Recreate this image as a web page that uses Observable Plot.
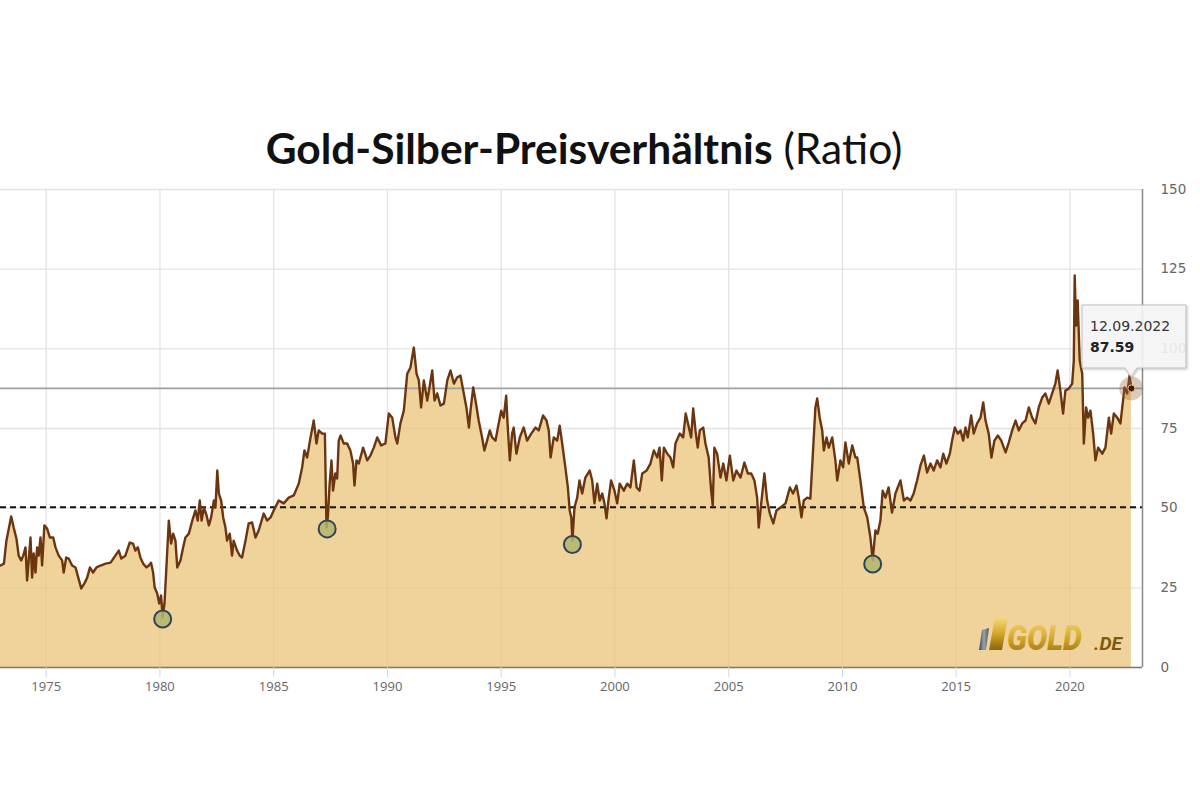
<!DOCTYPE html>
<html><head><meta charset="utf-8">
<script src="https://cdn.jsdelivr.net/npm/d3@7"></script>
<script src="https://cdn.jsdelivr.net/npm/@observablehq/plot@0.6"></script>
<style>
html,body{margin:0;padding:0;background:#fff;}
body{width:1200px;height:800px;overflow:hidden;position:relative;}
#title{position:absolute;left:0;top:125px;width:1168px;text-align:center;font-family:Lato,"Open Sans",sans-serif;font-size:42.5px;line-height:46px;color:#111;white-space:nowrap;}
#title b{font-weight:700;}
#title span{font-weight:400;}
#chart{position:absolute;left:0;top:0;}
#overlay{position:absolute;left:0;top:0;pointer-events:none;}
</style>
</head><body>
<div id="title"><b>Gold-Silber-Preisverhältnis</b> <span>(Ratio)</span></div>
<div id="chart"></div>
<script>
// ---- data ----
const years = [
1972.99,1973.14,1973.25,1973.46,1973.57,1973.69,1973.79,1973.90,1973.99,1974.09,
1974.16,1974.23,1974.31,1974.38,1974.45,1974.53,1974.60,1974.67,1974.75,1974.82,
1974.92,1975.04,1975.16,1975.31,1975.41,1975.55,1975.70,1975.77,1975.88,1975.99,
1976.14,1976.29,1976.41,1976.54,1976.68,1976.80,1976.92,1977.06,1977.21,1977.39,
1977.61,1977.83,1978.04,1978.19,1978.30,1978.48,1978.67,1978.82,1978.92,1979.03,
1979.14,1979.26,1979.41,1979.51,1979.61,1979.70,1979.77,1979.88,1979.97,1980.05,
1980.12,1980.20,1980.27,1980.39,1980.49,1980.58,1980.68,1980.76,1980.90,1981.02,
1981.12,1981.27,1981.42,1981.56,1981.66,1981.75,1981.83,1981.93,1982.05,1982.15,
1982.25,1982.37,1982.44,1982.52,1982.59,1982.69,1982.78,1982.88,1982.95,1983.07,
1983.17,1983.24,1983.39,1983.51,
1983.61,1983.76,1983.90,1984.05,1984.20,1984.34,1984.56,1984.71,1984.86,1985.00,
1985.22,1985.44,1985.66,1985.88,1986.10,1986.25,1986.35,1986.47,1986.62,1986.76,
1986.88,1986.98,1987.13,1987.25,1987.32,1987.38,1987.46,1987.54,1987.61,1987.71,
1987.79,1987.86,1987.94,1988.08,1988.23,1988.37,1988.49,1988.55,1988.64,1988.74,
1988.93,1989.11,1989.25,1989.40,1989.55,1989.72,1989.91,1990.06,1990.21,1990.35,
1990.43,1990.57,1990.72,1990.87,1991.01,1991.16,1991.28,1991.38,1991.48,1991.60,
1991.75,1991.85,1991.97,1992.07,1992.19,1992.33,1992.48,1992.63,1992.77,1992.92,
1993.06,1993.21,1993.33,1993.47,1993.58,1993.65,1993.77,1993.87,1994.01,1994.16,
1994.26,1994.38,1994.50,1994.60,1994.75,1994.89,1995.00,1995.11,1995.22,1995.29,
1995.38,1995.48,1995.55,1995.67,1995.82,1995.99,1996.14,1996.32,1996.51,1996.65,
1996.84,1996.99,1997.09,1997.17,1997.31,1997.46,1997.57,1997.68,1997.82,1997.93,
1998.01,1998.08,1998.13,1998.22,1998.34,1998.44,1998.56,1998.70,1998.89,1999.00,
1999.10,1999.22,1999.33,1999.44,1999.54,1999.63,1999.73,1999.83,1999.98,2000.10,
2000.21,2000.39,2000.54,2000.68,2000.83,2000.95,2001.08,2001.20,2001.39,2001.56,
2001.71,2001.86,2001.96,2002.06,2002.15,2002.30,2002.44,2002.56,2002.66,2002.85,
2003.00,2003.11,2003.25,2003.35,2003.44,2003.54,2003.64,2003.73,2003.88,2003.98,
2004.12,2004.23,2004.30,2004.37,2004.49,2004.64,2004.76,2004.90,2005.05,2005.20,
2005.34,2005.52,2005.69,2005.84,2005.99,2006.13,2006.25,2006.32,2006.43,2006.57,
2006.69,2006.81,2006.96,2007.10,2007.28,2007.50,2007.69,2007.83,2007.98,2008.08,
2008.20,2008.30,2008.45,2008.59,2008.70,2008.81,2008.89,2009.00,2009.11,2009.18,
2009.30,2009.40,2009.55,2009.69,2009.77,2009.91,2010.03,2010.13,2010.28,2010.43,
2010.57,2010.65,2010.79,2010.94,2011.09,2011.23,2011.33,2011.45,2011.55,2011.67,
2011.77,2011.89,2012.03,2012.18,2012.33,2012.55,2012.70,2012.84,2012.99,2013.13,
2013.28,2013.43,2013.58,2013.72,2013.87,2014.01,2014.16,2014.31,2014.43,2014.57,
2014.72,2014.82,2014.94,2015.07,2015.19,2015.31,2015.41,2015.51,2015.66,2015.77,
2015.92,2016.07,2016.19,2016.29,2016.43,2016.55,2016.68,2016.83,2016.98,2017.17,
2017.31,2017.46,2017.61,2017.75,2017.90,2018.05,2018.19,2018.34,2018.48,2018.63,
2018.78,2018.92,2019.07,2019.22,2019.36,2019.46,2019.58,2019.70,2019.80,2019.95,
2020.10,2020.17,2020.21,2020.27,2020.34,2020.43,2020.54,2020.61,2020.71,2020.80,
2020.90,2021.02,2021.12,2021.24,2021.42,2021.56,2021.71,2021.81,2021.93,2022.08,
2022.22,2022.30,2022.40,2022.52,2022.62,2022.70
];
const ratio = [
32.0,32.6,39.8,47.4,43.9,40.5,35.1,33.6,35.1,37.7,
27.3,33.6,40.8,28.2,35.8,29.8,37.7,35.1,40.8,32.0,
44.6,43.6,40.8,40.8,37.7,35.1,33.6,29.8,34.5,34.2,
32.0,31.4,28.2,24.8,26.4,28.2,31.4,29.8,31.4,32.0,
32.6,32.9,35.1,36.7,34.2,35.1,39.2,38.9,36.7,37.7,
34.5,32.6,31.4,32.0,32.9,29.8,25.1,23.2,20.1,22.6,
15.7,20.1,29.5,46.1,38.9,42.0,39.8,31.4,33.6,37.7,
40.8,42.0,46.1,49.3,46.1,52.4,46.1,50.2,47.7,44.6,
47.1,52.4,50.2,61.8,54.6,52.4,47.1,43.9,39.8,42.0,
35.1,39.8,36.7,35.1,
34.5,39.8,45.2,45.5,40.8,43.0,48.3,46.1,47.1,49.3,
52.4,51.5,53.3,54.0,57.7,62.8,68.1,65.9,72.2,77.5,
70.3,74.4,73.4,73.4,44.0,47.1,57.7,65.0,55.5,60.9,
59.3,71.2,72.8,70.3,70.3,68.1,64.0,57.1,65.0,64.0,
69.0,65.0,66.5,69.0,72.2,69.7,70.3,79.7,78.4,72.2,
70.3,76.6,80.6,92.2,94.1,100.4,92.2,90.1,81.6,90.1,
83.8,87.9,93.2,83.8,86.0,82.2,82.8,90.1,93.2,89.1,
91.0,91.6,86.9,81.6,75.3,80.6,87.9,83.8,77.5,72.2,
68.1,71.2,74.4,72.2,71.2,76.6,80.6,78.4,85.3,75.3,
65.0,73.4,75.3,67.1,72.2,75.3,71.2,73.4,75.3,74.4,
79.1,77.5,74.4,65.9,72.2,71.2,75.9,70.3,62.8,56.5,
49.3,47.1,39.8,50.2,53.3,58.7,54.6,59.6,61.8,58.7,
51.5,57.7,52.4,54.6,51.5,46.8,53.3,58.7,55.5,51.5,
57.7,55.5,57.7,56.5,65.0,56.5,55.5,60.9,61.8,64.0,
68.1,65.9,69.0,58.7,69.0,67.1,65.9,62.8,70.3,73.4,
72.2,79.7,75.3,72.2,81.3,74.4,69.0,74.4,75.3,70.3,
65.9,55.5,50.8,69.0,67.1,59.6,64.0,58.7,66.5,58.7,
61.8,59.6,64.3,60.9,60.9,58.7,53.3,43.9,51.5,60.9,
52.4,48.3,45.2,49.3,50.2,51.5,56.5,54.6,57.1,53.3,
47.1,52.4,53.3,53.0,67.1,81.6,84.4,78.4,74.4,68.1,
72.2,69.0,72.2,65.0,58.7,65.0,62.8,70.6,64.0,69.7,
65.9,65.9,58.7,50.2,47.1,40.8,33.6,43.0,42.0,46.1,
55.5,53.3,56.5,48.6,54.6,58.7,52.4,53.3,52.4,54.6,
58.7,63.4,66.5,61.2,64.0,61.8,65.0,62.8,67.1,64.0,
67.1,71.2,75.3,73.4,74.4,71.2,75.3,72.2,79.1,73.4,
76.6,78.4,83.2,77.5,73.4,65.9,71.2,72.8,71.2,67.5,
70.6,74.4,77.5,74.4,76.6,77.5,81.6,78.4,76.6,81.6,
84.7,86.0,82.8,86.0,89.1,93.2,86.9,79.7,86.9,87.5,
89.1,96.3,123.0,107.3,115.2,96.3,92.2,70.3,81.6,78.4,
80.6,73.4,65.0,69.0,67.1,69.0,78.4,73.4,79.7,78.4,
76.6,81.6,87.9,86.0,91.6,87.59
];
const lowYears = [1980.12, 1987.35, 1998.13, 2011.33];
const lowValues = [15.2, 43.5, 38.6, 32.5];
const averageLine = 50.3;
const lastYear = 2022.70;
const lastLabel = "12.09.2022";
const lastValue = 87.59;
const tickYears = [1975, 1980, 1985, 1990, 1995, 2000, 2005, 2010, 2015, 2020];
const yTicks = [0, 25, 50, 75, 100, 125, 150];
const domainYears = [1972.99, 2023.19];

// ---- build ----
const toDate = t => { const y = Math.floor(t); const a = Date.UTC(y, 0, 1), b = Date.UTC(y + 1, 0, 1); return new Date(a + (t - y) * (b - a)); };
const data = years.map((t, i) => ({date: toDate(t), ratio: ratio[i]}));
const lows = lowYears.map((t, i) => ({date: toDate(t), ratio: lowValues[i]}));
const last = {date: toDate(lastYear), ratio: lastValue};
const xDomain = domainYears.map(toDate);
const xTicks = tickYears.map(y => new Date(Date.UTC(y, 0, 1)));

const chart = Plot.plot({
  width: 1200, height: 800,
  marginLeft: 0, marginRight: 58, marginTop: 189, marginBottom: 133,
  x: {type: "utc", domain: xDomain},
  y: {domain: [0, 150]},
  style: {background: "transparent", overflow: "visible"},
  marks: [
    Plot.gridY(yTicks, {stroke: "#e3e3e3", strokeOpacity: 1, strokeWidth: 1.3}),
    Plot.gridX(xTicks, {stroke: "#e3e3e3", strokeOpacity: 1, strokeWidth: 1.3}),
    Plot.areaY(data, {x: "date", y: "ratio", fill: "#e9c477", fillOpacity: 0.74}),
    Plot.ruleY([averageLine], {stroke: "#111", strokeWidth: 2, strokeDasharray: "6,4"}),
    Plot.ruleY([lastValue], {stroke: "#a0a0a0", strokeWidth: 1.6}),
    Plot.lineY(data, {x: "date", y: "ratio", stroke: "#6b3510", strokeWidth: 2.4, strokeLinejoin: "round"}),
    Plot.dot(lows, {x: "date", y: "ratio", r: 8.5, fill: "#b1b56c", fillOpacity: 0.85, stroke: "#2d4656", strokeWidth: 2}),
    Plot.dot([last], {x: "date", y: "ratio", r: 12, fill: "#9a6a3a", fillOpacity: 0.35}),
    Plot.dot([last], {x: "date", y: "ratio", r: 3.5, fill: "#3b1c06", stroke: "#e8c47a", strokeWidth: 1}),
    Plot.ruleY([0], {stroke: "#7a7a7a", strokeWidth: 1.5}),
    Plot.ruleX([xDomain[1]], {y1: 0, y2: 150, stroke: "#8a8a8a", strokeWidth: 1.5}),
    Plot.axisY(yTicks, {anchor: "right", tickSize: 0, tickPadding: 18, fontSize: 13.5, fill: "#666", fontFamily: "DejaVu Sans", label: null}),
    Plot.axisX(xTicks, {anchor: "bottom", tickSize: 10, stroke: "#ccd6eb", tickPadding: 4, tickFormat: d => String(d.getUTCFullYear()), fontSize: 13, fill: "#666", fontFamily: "Open Sans", label: null})
  ]
});
document.getElementById("chart").appendChild(chart);

// ---- overlay: tooltip + logo ----
const ns = "http://www.w3.org/2000/svg";
const ov = document.createElementNS(ns, "svg");
ov.setAttribute("id", "overlay");
ov.setAttribute("width", 1200); ov.setAttribute("height", 800);
ov.innerHTML = `
<defs>
  <linearGradient id="gold" x1="0" y1="0" x2="0" y2="1">
    <stop offset="0" stop-color="#f6dc7c"/><stop offset="0.5" stop-color="#d3a62a"/><stop offset="1" stop-color="#8c6510"/>
  </linearGradient>
  <linearGradient id="steel" x1="0" y1="0" x2="1" y2="0">
    <stop offset="0" stop-color="#3b4652"/><stop offset="0.5" stop-color="#9aa3ad"/><stop offset="1" stop-color="#4b5560"/>
  </linearGradient>
  <filter id="sh" x="-20%" y="-20%" width="150%" height="150%"><feDropShadow dx="1" dy="1" stdDeviation="1.2" flood-color="#000" flood-opacity="0.25"/></filter>
</defs>
<path d="M1082,305 H1186 V368 H1137 L1131,377 L1125,368 H1082 Z" fill="rgba(247,247,247,0.88)" stroke="#bdbdbd" stroke-width="1" filter="url(#sh)"/>
<text x="1090" y="331" font-family="DejaVu Sans" font-size="14" fill="#333">${lastLabel}</text>
<text x="1090" y="352" font-family="DejaVu Sans" font-size="14" font-weight="bold" fill="#222">${lastValue.toFixed(2)}</text>
<polygon points="982,630 989,628 986,650 979,650" fill="url(#steel)"/>
<polygon points="995,617 1008,617 1002,650 989,650" fill="url(#gold)"/>
<text x="1007" y="650" font-family="Roboto, 'DejaVu Sans'" font-style="italic" font-weight="900" font-size="35" textLength="75" lengthAdjust="spacingAndGlyphs" fill="url(#gold)">GOLD</text>
<text x="1094" y="650" font-family="Roboto, 'DejaVu Sans'" font-style="italic" font-weight="700" font-size="19" textLength="28" lengthAdjust="spacingAndGlyphs" fill="#7d5a12">.DE</text>
`;
document.body.appendChild(ov);
</script>
</body></html>
